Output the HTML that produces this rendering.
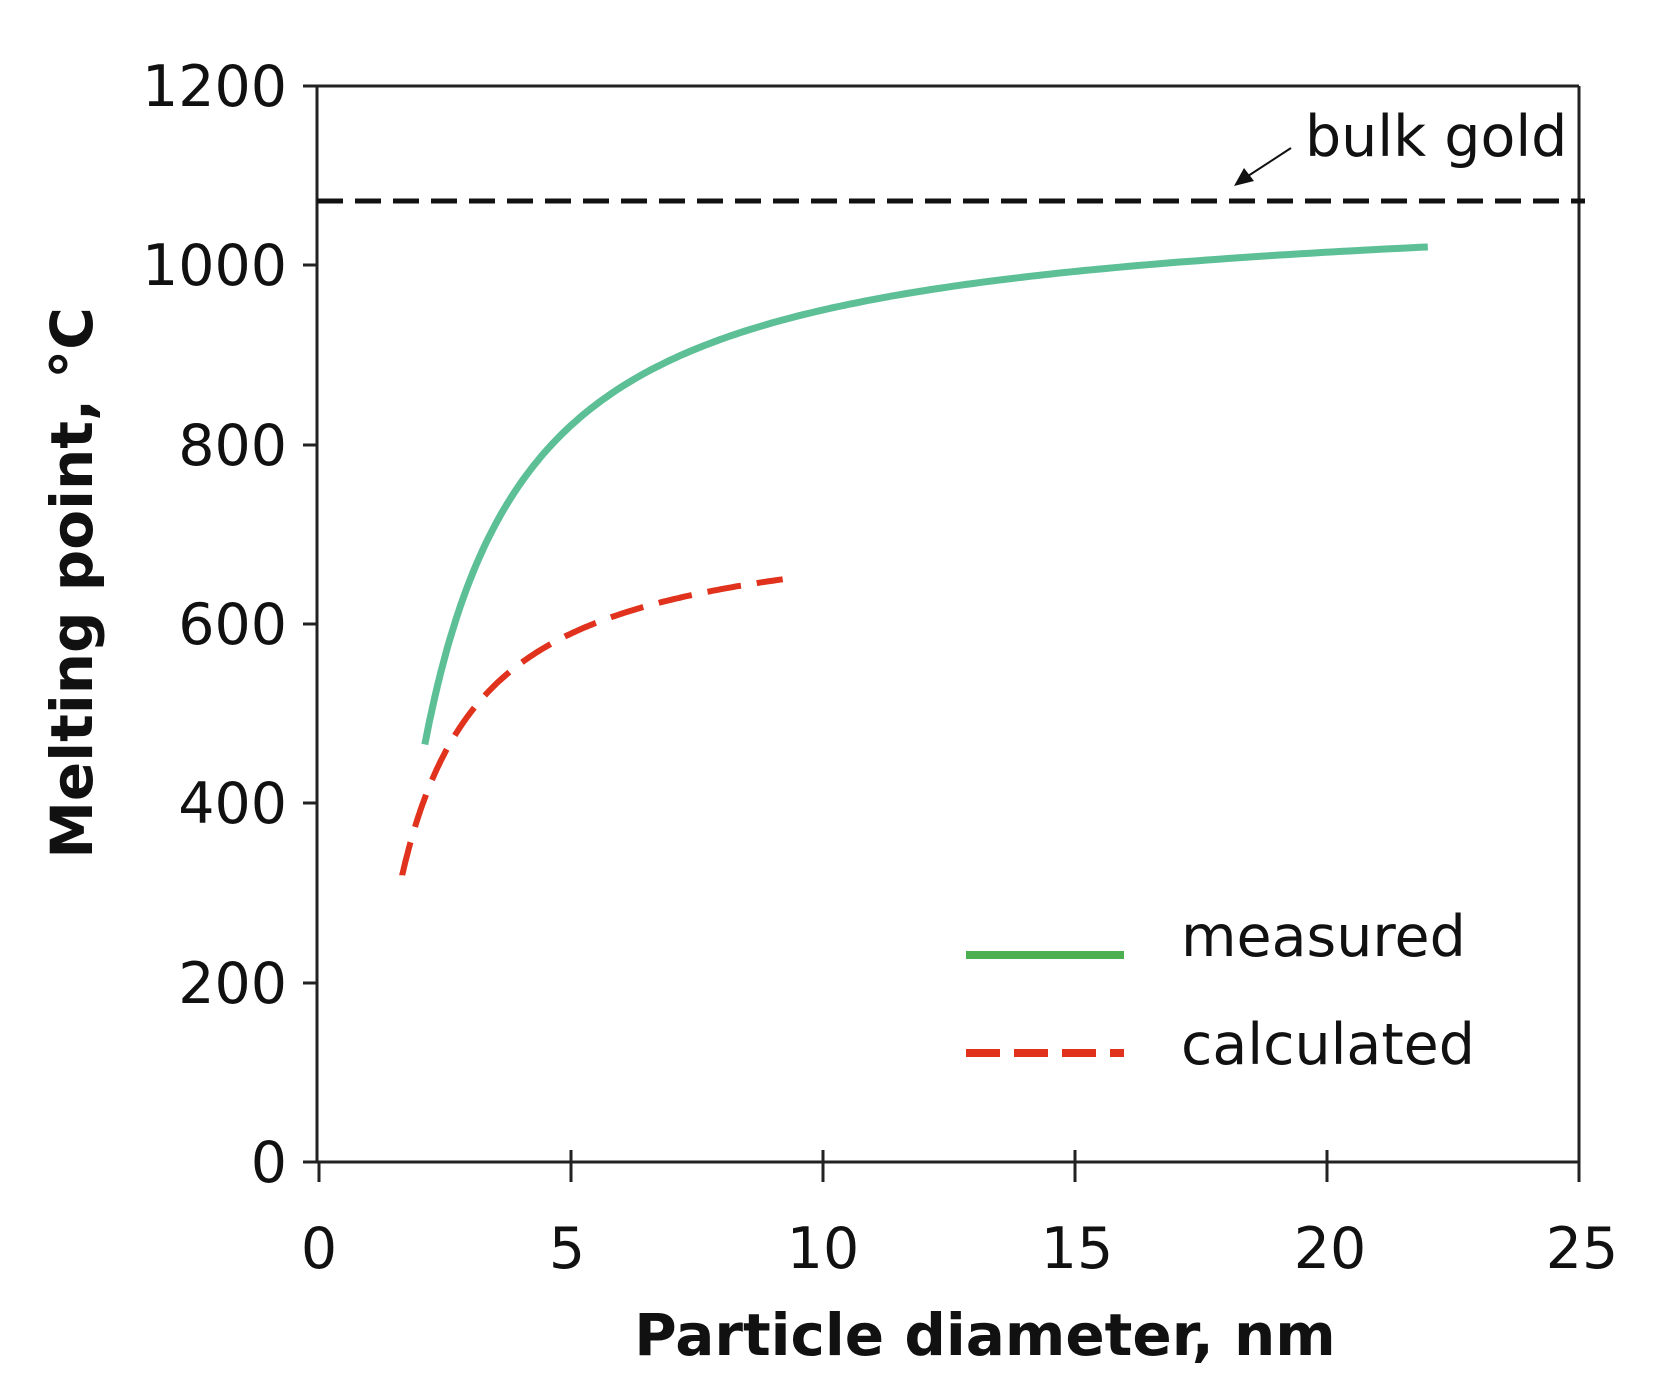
<!DOCTYPE html>
<html><head><meta charset="utf-8"><style>
html,body{margin:0;padding:0;background:#fff;}
svg{display:block;}
text{font-family:"DejaVu Sans","Liberation Sans",sans-serif;fill:#111;}
</style></head><body>
<svg id="s" width="1655" height="1400" viewBox="0 0 1655 1400" xmlns="http://www.w3.org/2000/svg">
<g stroke="#222" stroke-width="3" fill="none">
<line x1="317" y1="86" x2="317" y2="1162"/>
<line x1="303" y1="1162" x2="1579" y2="1162"/>
<line x1="317" y1="86" x2="1579" y2="86"/>
<line x1="1579" y1="86" x2="1579" y2="1162"/>
<line x1="303" y1="86" x2="317" y2="86"/>
<line x1="303" y1="265" x2="317" y2="265"/>
<line x1="303" y1="445" x2="317" y2="445"/>
<line x1="303" y1="624" x2="317" y2="624"/>
<line x1="303" y1="803" x2="317" y2="803"/>
<line x1="303" y1="983" x2="317" y2="983"/>
<line x1="319" y1="1162" x2="319" y2="1182"/>
<line x1="571" y1="1150" x2="571" y2="1182"/>
<line x1="823" y1="1150" x2="823" y2="1182"/>
<line x1="1075" y1="1150" x2="1075" y2="1182"/>
<line x1="1327" y1="1150" x2="1327" y2="1182"/>
<line x1="1579" y1="1150" x2="1579" y2="1182"/>
</g>
<g font-size="57" text-anchor="end">
<text x="287" y="106">1200</text>
<text x="287" y="285">1000</text>
<text x="287" y="465">800</text>
<text x="287" y="644">600</text>
<text x="287" y="823">400</text>
<text x="287" y="1003">200</text>
<text x="287" y="1182">0</text>
</g>
<g font-size="57" text-anchor="middle">
<text x="319" y="1268">0</text>
<text x="567" y="1268">5</text>
<text x="823" y="1268">10</text>
<text x="1077" y="1268">15</text>
<text x="1330" y="1268">20</text>
<text x="1582" y="1268">25</text>
</g>
<text x="985" y="1355" font-size="58" font-weight="bold" text-anchor="middle">Particle diameter, nm</text>
<text transform="translate(92,583) rotate(-90)" font-size="58" font-weight="bold" text-anchor="middle">Melting point, °C</text>
<line x1="317" y1="201" x2="1585" y2="201" stroke="#111" stroke-width="5" stroke-dasharray="26,12"/>
<text x="1305" y="156" font-size="57">bulk gold</text>
<line x1="1291" y1="148" x2="1248" y2="176" stroke="#111" stroke-width="2"/>
<polygon points="1234,186 1244,168 1254,181" fill="#111"/>
<path id="g" fill="none" stroke="#5cbf95" stroke-width="7"/>
<path id="r" fill="none" stroke="#e0321c" stroke-width="6" stroke-dasharray="34,16"/>
<line x1="966" y1="955" x2="1124" y2="955" stroke="#4caf50" stroke-width="8"/>
<line x1="966" y1="1053" x2="1124" y2="1053" stroke="#e0321c" stroke-width="8" stroke-dasharray="34,14"/>
<text x="1181" y="956" font-size="57">measured</text>
<text x="1181" y="1064" font-size="57">calculated</text>
</svg>
<script>
function X(d){return 319+d*50.4;}function Y(t){return 1162-t*0.8967;}
function mk(a,b,A,B){var s="";for(var i=0;i<=200;i++){var d=a+(b-a)*Math.pow(i/200,1.6);s+=(i?"L":"M")+X(d).toFixed(1)+","+Y(A-B/d).toFixed(1);}return s;}
document.getElementById("g").setAttribute("d",mk(2.1,22,1079,1288));
document.getElementById("r").setAttribute("d",mk(1.65,9.2,722,663.6));
</script>
</body></html>
